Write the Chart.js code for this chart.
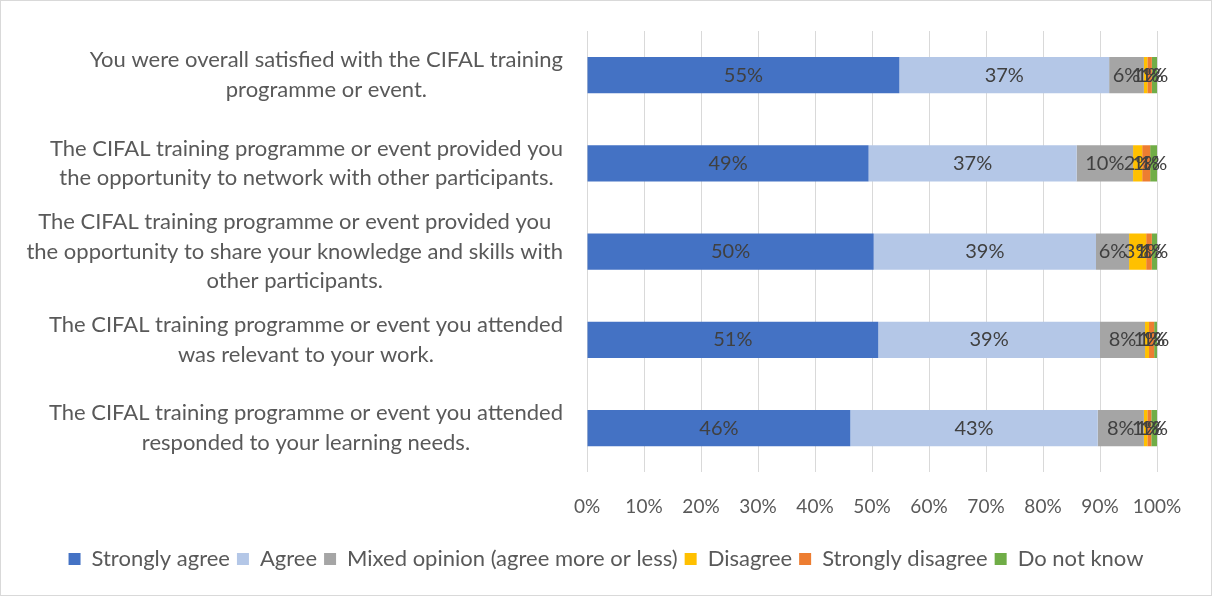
<!DOCTYPE html>
<html>
<head>
<meta charset="utf-8">
<script src="https://cdn.jsdelivr.net/npm/chart.js@4"></script>
<style>
  body { margin: 0; background: #fff; }
  #wrap { width: 1212px; height: 596px; box-sizing: border-box; border: 1px solid #d9d9d9; }
</style>
</head>
<body>
<div id="wrap"><canvas id="chart"></canvas></div>
<script>
'use strict';

let questions = [
  ['You were overall satisfied with the CIFAL training', 'programme or event.'],
  ['The CIFAL training programme or event provided you', 'the opportunity to network with other participants.'],
  ['The CIFAL training programme or event provided you', 'the opportunity to share your knowledge and skills with', 'other participants.'],
  ['The CIFAL training programme or event you attended', 'was relevant to your work.'],
  ['The CIFAL training programme or event you attended', 'responded to your learning needs.']
];

let stronglyAgree = [54.8, 49.4, 50.3, 51.1, 46.2];
let agree = [36.8, 36.5, 39.0, 38.9, 43.4];
let mixedOpinion = [6.1, 9.9, 5.8, 7.9, 8.1];
let disagree = [0.6, 1.6, 3.0, 0.7, 0.6];
let stronglyDisagree = [0.8, 1.4, 1.0, 0.9, 0.7];
let doNotKnow = [0.9, 1.2, 0.9, 0.5, 1.0];

let xTicks = [0, 10, 20, 30, 40, 50, 60, 70, 80, 90, 100];

let canvasElem = document.getElementById('chart');
let fontName = 'Lato';

// draws the percent label in the middle of every segment
let valueLabels = {
  id: 'valueLabels',
  afterDatasetsDraw(chart) {
    let ctx = chart.ctx;
    ctx.save();
    ctx.font = '20px ' + fontName;
    ctx.fillStyle = '#404040';
    ctx.textAlign = 'center';
    ctx.textBaseline = 'middle';
    chart.data.datasets.forEach((ds, i) => {
      chart.getDatasetMeta(i).data.forEach((bar, j) => {
        let mid = (bar.x + bar.base) / 2;
        ctx.fillText(Math.round(ds.data[j]) + '%', mid, bar.y);
      });
    });
    ctx.restore();
  }
};

// category labels: each block centred on itself, right edge against the axis
let questionLabels = {
  id: 'questionLabels',
  afterDraw(chart) {
    let ctx = chart.ctx;
    let yScale = chart.scales.y;
    let right = chart.chartArea.left - 24;
    let lineH = 29.5;
    ctx.save();
    ctx.font = '22px ' + fontName;
    ctx.fillStyle = '#595959';
    ctx.textAlign = 'center';
    ctx.textBaseline = 'middle';
    questions.forEach((lines, i) => {
      let w = Math.max(...lines.map(l => ctx.measureText(l).width));
      let cx = right - w / 2;
      let cy = yScale.getPixelForTick(i);
      let top = cy - (lines.length - 1) * lineH / 2;
      lines.forEach((l, k) => ctx.fillText(l, cx, top + k * lineH));
    });
    ctx.restore();
  }
};

function makeSet(label, data, color) {
  return {
    label: label,
    data: data,
    backgroundColor: color,
    borderWidth: 0,
    categoryPercentage: 1,
    barPercentage: 0.41
  };
}

let chartObj = {
  type: 'bar',
  data: {
    labels: questions,
    datasets: [
      makeSet('Strongly agree', stronglyAgree, '#4472c4'),
      makeSet('Agree', agree, '#b4c7e7'),
      makeSet('Mixed opinion (agree more or less)', mixedOpinion, '#a5a5a5'),
      makeSet('Disagree', disagree, '#ffc000'),
      makeSet('Strongly disagree', stronglyDisagree, '#ed7d31'),
      makeSet('Do not know', doNotKnow, '#70ad47')
    ]
  },
  options: {
    indexAxis: 'y',
    responsive: true,
    maintainAspectRatio: false,
    animation: false,
    layout: { padding: { top: 30, right: 0, bottom: 15, left: 0 } },
    scales: {
      x: {
        stacked: true,
        min: 0,
        max: 100,
        afterBuildTicks(axis) {
          axis.ticks = xTicks.map(v => ({ value: v }));
        },
        afterFit(axis) { axis.paddingRight = 54; },
        grid: { color: '#d9d9d9', drawTicks: false },
        border: { display: false },
        ticks: {
          color: '#595959',
          font: { family: fontName, size: 19 },
          padding: 23,
          callback: v => v + '%'
        }
      },
      y: {
        stacked: true,
        grid: { display: false },
        border: { display: false },
        ticks: { display: false },
        afterFit(axis) { axis.width = 586; }
      }
    },
    plugins: {
      legend: {
        position: 'bottom',
        labels: {
          color: '#595959',
          font: { family: fontName, size: 22 },
          boxWidth: 12,
          boxHeight: 12,
          padding: 7
        }
      },
      tooltip: { enabled: false }
    }
  },
  plugins: [valueLabels, questionLabels]
};

new Chart(canvasElem, chartObj);
</script>
</body>
</html>
